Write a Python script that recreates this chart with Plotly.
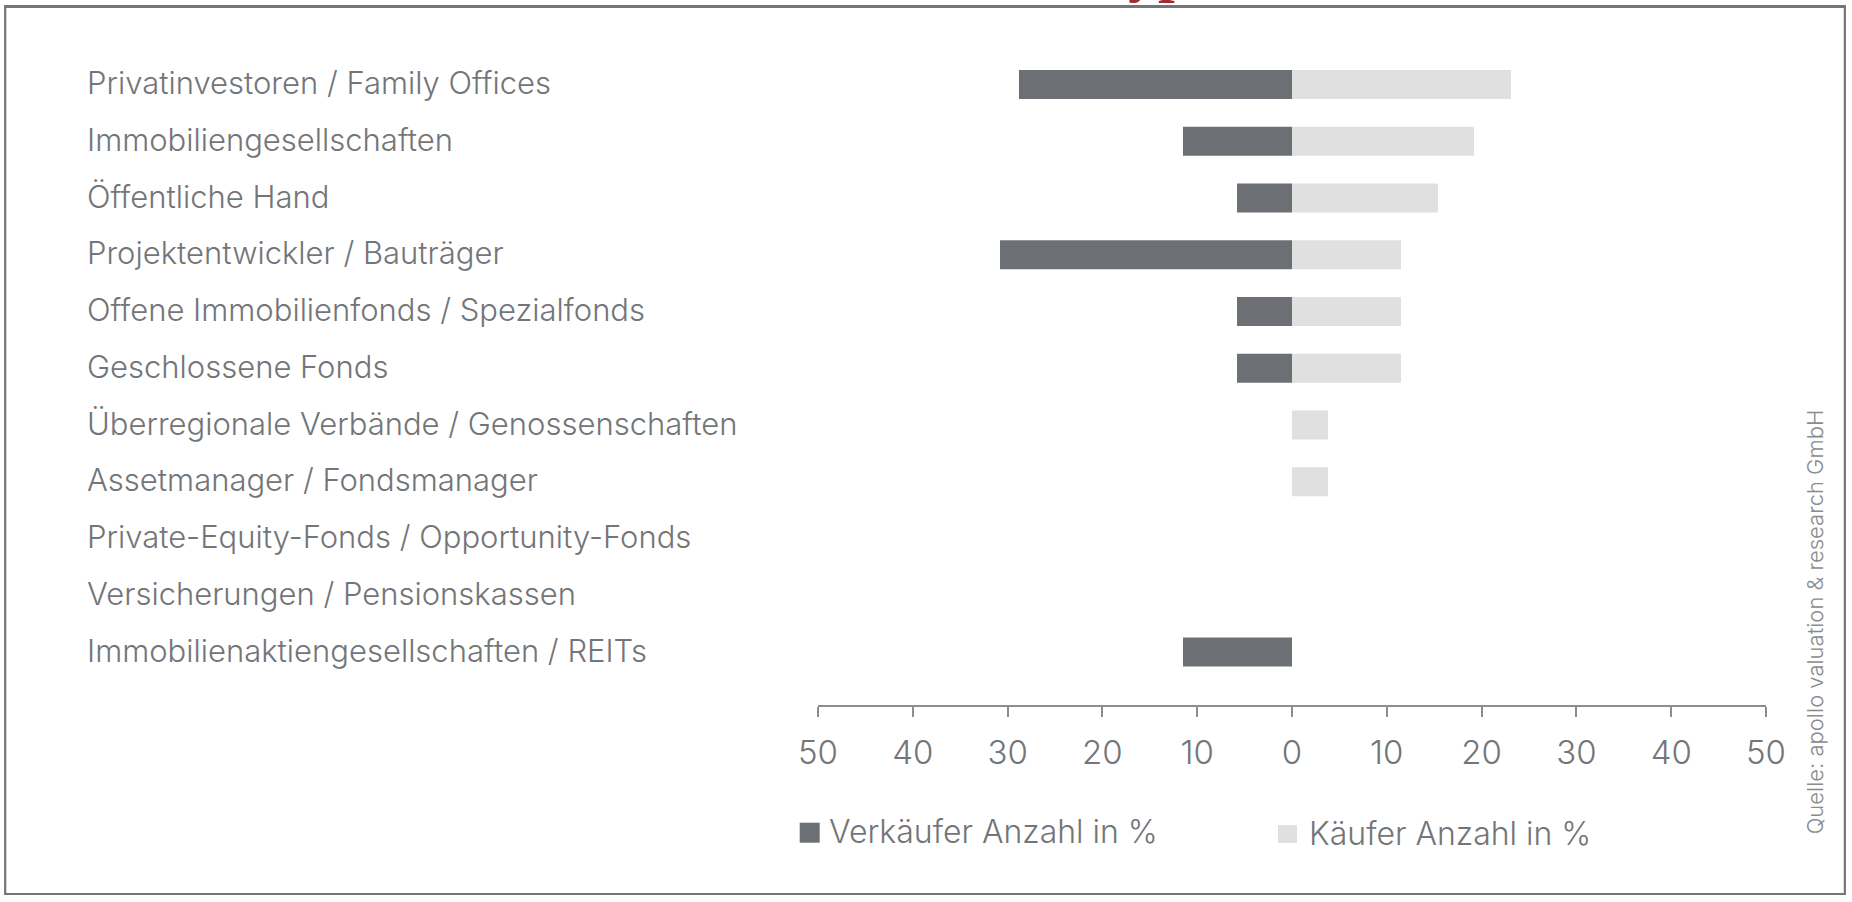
import plotly.graph_objects as go

# ---------------- data ----------------
categories = [
    "Privatinvestoren / Family Offices",
    "Immobiliengesellschaften",
    "Öffentliche Hand",
    "Projektentwickler / Bauträger",
    "Offene Immobilienfonds / Spezialfonds",
    "Geschlossene Fonds",
    "Überregionale Verbände / Genossenschaften",
    "Assetmanager / Fondsmanager",
    "Private-Equity-Fonds / Opportunity-Fonds",
    "Versicherungen / Pensionskassen",
    "Immobilienaktiengesellschaften / REITs",
]
verkaeufer = [28.8, 11.5, 5.8, 30.8, 5.8, 5.8, 0, 0, 0, 0, 11.5]
kaeufer = [23.1, 19.2, 15.4, 11.5, 11.5, 11.5, 3.8, 3.8, 0, 0, 0]
tick_values = [-50, -40, -30, -20, -10, 0, 10, 20, 30, 40, 50]
tick_labels = ["50", "40", "30", "20", "10", "0", "10", "20", "30", "40", "50"]
name_verkaeufer = "Verkäufer Anzahl in %"
name_kaeufer = "Käufer Anzahl in %"
source_text = "Quelle: apollo valuation &amp; research GmbH"
title_text = "Käufer- und Verkäufertypen"

# ---------------- style ----------------
W, H = 1852, 902
L, R, T, B = 818.3, 1765.7, 50, 705  # plot area in px
PW, PH = R - L, B - T
DARK = "#6c6f73"
LIGHT = "#e0e0e0"
TXT = "#737578"
FONT = "Inter"


def px(x):
    return (x - L) / PW


def py(y):
    return (B - y) / PH


fig = go.Figure()
fig.add_trace(go.Bar(
    y=categories, x=[-v for v in verkaeufer], orientation="h",
    name=name_verkaeufer, marker=dict(color=DARK, line=dict(width=0)),
    showlegend=False,
))
fig.add_trace(go.Bar(
    y=categories, x=kaeufer, orientation="h",
    name=name_kaeufer, marker=dict(color=LIGHT, line=dict(width=0)),
    showlegend=False,
))

annotations = []
for c in categories:
    annotations.append(dict(
        x=px(86), xref="paper", xanchor="left",
        y=c, yref="y", yanchor="middle", yshift=2,
        text=c, showarrow=False,
        font=dict(family=FONT, size=31, color=TXT, weight=300),
    ))

# legend (manual)
legend_items = [(name_verkaeufer, DARK, 800, 820, 822.7, 842.7, 827),
                (name_kaeufer, LIGHT, 1278, 1297, 825, 843, 1306.7)]
shapes = []
for name, col, x0, x1, y0, y1, tx in legend_items:
    shapes.append(dict(type="rect", xref="paper", yref="paper",
                       x0=px(x0), x1=px(x1), y0=py(y1), y1=py(y0),
                       fillcolor=col, line=dict(width=0)))
    annotations.append(dict(
        x=px(tx), xref="paper", xanchor="left",
        y=py((y0 + y1) / 2 - 1), yref="paper", yanchor="middle",
        text=name, showarrow=False,
        font=dict(family=FONT, size=32, color=TXT, weight=300),
    ))

# source (rotated)
annotations.append(dict(
    x=px(1815), xref="paper", xanchor="center",
    y=py(622), yref="paper", yanchor="middle",
    text=source_text, textangle=-90, showarrow=False,
    font=dict(family=FONT, size=22, color="#8a8b8d", weight=300),
))

# clipped red title at the very top (only descenders visible)
annotations.append(dict(
    x=px(1140 - 10.40 * 60), xref="paper", xanchor="left",
    y=py(4), yref="paper", yanchor="bottom", borderpad=0,
    text="<b>" + title_text + "</b>", showarrow=False,
    font=dict(family="Liberation Serif", size=60, color="#a32a30"),
))

# frame
shapes.append(dict(type="rect", xref="paper", yref="paper",
                   x0=px(6), x1=px(1844.5), y0=py(894), y1=py(6.5),
                   line=dict(color="#747578", width=2.2)))
shapes.append(dict(type="line", xref="paper", yref="paper",
                   x0=px(5), x1=px(1845.5), y0=py(6.5), y1=py(6.5),
                   line=dict(color="#747578", width=3)))

fig.update_layout(
    width=W, height=H,
    margin=dict(l=L, r=W - R, t=T, b=H - B, pad=0),
    paper_bgcolor="white", plot_bgcolor="white",
    barmode="relative", bargap=0.49,
    font=dict(family=FONT, color=TXT, weight=300),
    xaxis=dict(
        range=[-50, 50], tickvals=tick_values, ticktext=tick_labels,
        showgrid=False, zeroline=False, showline=True,
        linecolor="#8c8d90", linewidth=1.5,
        ticks="outside", ticklen=10, tickwidth=1.5, tickcolor="#8c8d90",
        tickfont=dict(family=FONT, size=33, color=TXT, weight=300),
        ticklabelstandoff=8,
        fixedrange=True,
    ),
    yaxis=dict(
        type="category", categoryorder="array", categoryarray=categories,
        range=[10.934, -0.608], showticklabels=False, showgrid=False,
        zeroline=False, showline=False, ticks="", fixedrange=True,
    ),
    annotations=annotations, shapes=shapes,
)

fig.write_html(
    "out.html",
    config={"displayModeBar": False},
    post_script="document.body.style.margin='0';document.body.style.overflow='hidden';",
)
